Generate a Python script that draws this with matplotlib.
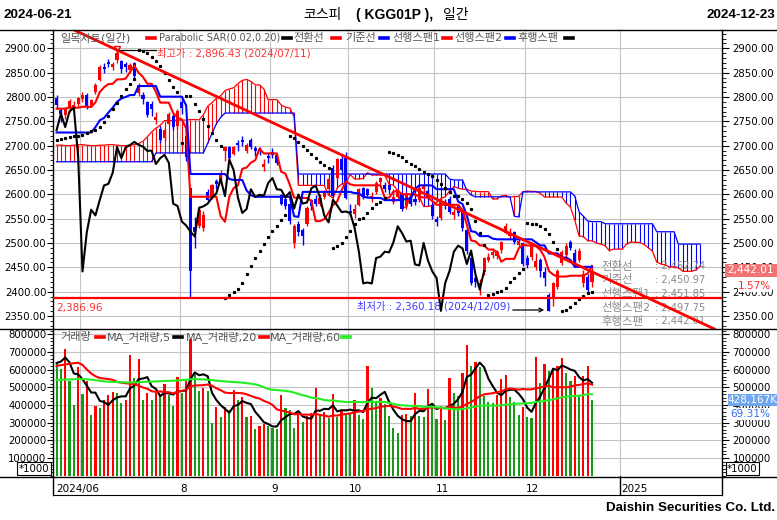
import numpy as np
import pandas as pd
import matplotlib
matplotlib.use('Agg')
import matplotlib.pyplot as plt
from matplotlib.lines import Line2D
from matplotlib.patches import Rectangle, FancyArrowPatch
from matplotlib.ticker import MultipleLocator, FixedLocator, FuncFormatter

plt.rcParams['font.family'] = ['DejaVu Sans', 'Noto Sans CJK KR']

# ---------------- data (KOSPI daily, 2024-06-21 .. 2024-12-23) ----------------
open_ = [2798, 2773, 2762, 2778, 2779, 2786, 2795, 2804, 2782, 2810,
         2835, 2862, 2872, 2862, 2875, 2873, 2868, 2856, 2870, 2808,
         2805, 2790, 2785, 2752, 2735, 2715, 2745, 2760, 2740, 2790,
         2720, 2614, 2533, 2535, 2530, 2605, 2596, 2628, 2625, 2688,
         2697, 2682, 2705, 2712, 2690, 2712, 2695, 2693, 2657, 2678,
         2687, 2680, 2598, 2590, 2580, 2500, 2540, 2526, 2540, 2588,
         2590, 2580, 2595, 2610, 2654, 2633, 2673, 2675, 2565, 2560,
         2578, 2613, 2610, 2592, 2605, 2625, 2620, 2620, 2585, 2595,
         2600, 2575, 2595, 2590, 2588, 2610, 2606, 2578, 2550, 2551,
         2585, 2590, 2557, 2575, 2565, 2527, 2469, 2428, 2410, 2440,
         2465, 2475, 2474, 2486, 2521, 2515, 2523, 2495, 2500, 2470,
         2471, 2450, 2465, 2440, 2393, 2389, 2410, 2459, 2475, 2503,
         2480, 2466, 2418, 2430, 2420]
high = [2804, 2778, 2780, 2795, 2792, 2800, 2810, 2808, 2796, 2829,
        2865, 2870, 2878, 2872, 2896.43, 2876, 2872, 2870, 2872, 2829,
        2810, 2792, 2792, 2770, 2740, 2737, 2770, 2764, 2775, 2803,
        2723, 2614, 2553, 2575, 2565, 2610, 2622, 2632, 2650, 2700,
        2700, 2700, 2712, 2720, 2706, 2715, 2700, 2697, 2672, 2685,
        2695, 2683, 2600, 2594, 2583, 2540, 2545, 2530, 2575, 2590,
        2598, 2600, 2608, 2635, 2660, 2675, 2681, 2686, 2580, 2580,
        2612, 2615, 2613, 2604, 2628, 2635.32, 2625, 2622, 2610, 2610,
        2603, 2605, 2600, 2598, 2615, 2622, 2610, 2580, 2555, 2592,
        2590, 2597, 2570, 2580, 2570, 2530, 2472, 2436, 2425, 2472,
        2480, 2490, 2486, 2505, 2541.76, 2530, 2525, 2510, 2502, 2475,
        2502, 2480, 2470, 2450, 2397, 2420, 2446, 2485, 2500, 2505.30,
        2488, 2490, 2445, 2436, 2450]
low = [2775, 2748.6, 2755, 2770, 2775, 2782, 2790, 2776, 2779, 2806,
       2832, 2850, 2862, 2855, 2870, 2850, 2852, 2850, 2840, 2803,
       2786, 2758, 2760, 2745, 2704.8, 2710, 2742, 2732, 2735, 2764,
       2669, 2386.96, 2490, 2530, 2525, 2585, 2590, 2610, 2620, 2668,
       2670, 2680, 2690, 2700, 2685, 2693, 2678, 2680, 2648, 2665,
       2674, 2660, 2578, 2570, 2540, 2490, 2515, 2496, 2535, 2568,
       2575, 2575, 2590, 2605, 2595, 2630, 2640, 2590, 2555, 2551,
       2575, 2590, 2592, 2585, 2600, 2620, 2605, 2600, 2580, 2590,
       2565, 2570, 2575, 2578, 2585, 2605, 2588, 2550, 2535, 2548,
       2570, 2560, 2550, 2555, 2525, 2478, 2413, 2410, 2393, 2435,
       2460, 2470, 2467, 2480, 2518, 2510, 2498, 2490, 2452, 2448,
       2465, 2445, 2430, 2412, 2360.18, 2370, 2405, 2455, 2470, 2485,
       2450, 2460, 2410, 2400.18, 2410]
close = [2784.26, 2764.73, 2774.39, 2792.05, 2784.06, 2797.82, 2804.31, 2780.86, 2794.01, 2824.94,
         2862.23, 2857.76, 2867.38, 2867.99, 2891.35, 2857.00, 2860.92, 2866.09, 2843.78, 2824.35,
         2795.46, 2763.51, 2774.29, 2758.71, 2710.65, 2731.90, 2765.52, 2738.19, 2770.69, 2777.68,
         2676.19, 2441.55, 2522.15, 2568.41, 2556.73, 2588.43, 2618.30, 2621.50, 2644.50, 2697.23,
         2674.36, 2696.63, 2701.13, 2707.67, 2701.69, 2698.01, 2689.25, 2689.83, 2662.28, 2674.31,
         2681.00, 2664.63, 2580.80, 2576.20, 2544.28, 2535.93, 2523.43, 2513.37, 2572.09, 2575.41,
         2580.80, 2593.37, 2602.01, 2631.68, 2596.32, 2671.57, 2649.78, 2593.27, 2561.69, 2569.71,
         2610.38, 2594.36, 2599.16, 2596.91, 2623.27, 2633.45, 2610.36, 2609.30, 2593.82, 2604.52,
         2570.70, 2599.62, 2581.03, 2583.27, 2612.43, 2617.80, 2593.79, 2556.15, 2542.36, 2588.97,
         2576.88, 2563.51, 2564.63, 2561.15, 2531.66, 2482.57, 2417.08, 2418.86, 2416.86, 2469.07,
         2471.95, 2482.12, 2480.63, 2501.24, 2534.34, 2520.36, 2503.06, 2504.67, 2455.91, 2453.95,
         2500.10, 2464.00, 2441.85, 2428.16, 2360.58, 2417.84, 2442.51, 2482.12, 2494.46, 2488.97,
         2456.81, 2484.43, 2435.93, 2404.15, 2442.01]
volume = [635000, 601000, 716000, 535000, 400000, 612000, 462000, 535000, 343000, 394000,
          380000, 428000, 456000, 475000, 470000, 412000, 428000, 682000, 550000, 657000,
          428000, 469000, 428000, 469000, 455000, 518000, 456000, 394000, 556000, 469000,
          533000, 771000, 588000, 478000, 494000, 480000, 300000, 386000, 334000, 388000,
          370000, 484000, 425000, 444000, 334000, 338000, 265000, 282000, 293000, 282000,
          270000, 262000, 457000, 382000, 374000, 270000, 343000, 306000, 338000, 356000,
          497000, 338000, 360000, 328000, 462000, 330000, 370000, 356000, 350000, 427000,
          345000, 320000, 620000, 495000, 410000, 440000, 405000, 338000, 270000, 241000,
          343000, 350000, 338000, 467000, 335000, 330000, 490000, 410000, 320000, 375000,
          316000, 552000, 469000, 452000, 578000, 738000, 620000, 644000, 615000, 448000,
          415000, 410000, 456000, 546000, 571000, 443000, 415000, 343000, 390000, 330000,
          326000, 669000, 525000, 631000, 594000, 605000, 622000, 663000, 578000, 533000,
          565000, 448000, 565000, 620000, 428167]

# indicator values before enough history exists
tenkan_head = [2776, 2776, 2776, 2778, 2778, 2778, 2780, 2780]
kijun_head = [2727, 2727, 2727, 2727, 2727, 2727, 2727, 2727, 2727, 2738,
              2752, 2757, 2768, 2778, 2790, 2797, 2800, 2804, 2804, 2822.5,
              2822.5, 2822.5, 2822.5, 2822.5, 2800.6]
span1_head = [2701, 2701, 2700, 2700, 2701, 2702, 2702, 2701, 2700, 2700,
              2701, 2701, 2702, 2702, 2701, 2700, 2700, 2701, 2702, 2704,
              2709, 2718, 2728, 2736, 2742]
span2_head = [2667, 2667, 2667, 2667, 2667, 2667, 2667, 2667, 2667, 2667,
              2667, 2667, 2667, 2667, 2667, 2667, 2667, 2667, 2667, 2667,
              2667, 2667, 2667, 2685, 2685, 2685, 2685, 2685, 2685, 2685,
              2685, 2685, 2685, 2685, 2685, 2705, 2725, 2745, 2758, 2767,
              2767, 2767, 2767, 2767, 2767, 2767, 2767, 2767, 2767, 2767,
              2767, 2767, 2767, 2767, 2767, 2767, 2641.7, 2641.7, 2641.7, 2641.7,
              2641.7, 2641.7, 2641.7, 2641.7, 2641.7, 2641.7, 2641.7, 2641.7, 2641.7, 2641.7,
              2641.7, 2641.7, 2641.7, 2641.7, 2641.7, 2641.7]
sar_start = 2712
ma5_head = [637000, 645000, 668000, 640000]
ma20_head = [621000, 625000, 628000, 632000, 636000, 638000, 626000, 600000, 578000, 562000,
             552000, 549000, 546000, 542000, 530000, 526000, 522000, 520000, 518000]
ma60_head = [541000, 542000, 543000, 544000, 545000, 546000, 546000, 545000, 543000, 540000,
             536000, 533000, 531000, 530000, 529000, 528000, 527000, 527000, 527000, 528000,
             530000, 531000, 532000, 533000, 534000, 535000, 536000, 537000, 538000, 540000,
             542000, 545000, 546000, 545000, 544000, 542000, 540000, 537000, 535000, 533000,
             531000, 529000, 528000, 526000, 523000, 520000, 516000, 510000, 500000, 490000,
             486000, 484000, 482000, 479000, 476000, 470000, 462000, 455000, 449000]

trend_x = [14, 66]
trend_y = [2896.43, 2681.00]
support = 2386.96

month_bounds = [5.5, 28.5, 49.5, 67.5, 87.5, 108.5, 130.5]
month_labels = ['2024/06', '8', '9', '10', '11', '12', '2025']
month_label_x = [-0.15, 28.75, 49.75, 67.75, 87.75, 108.75, 130.75]

info_names = ['전환선', '기준선', '선행스팬1', '선행스팬2', '후행스팬']
info_values = [': 2,452.74', ': 2,450.97', ': 2,451.85', ': 2,497.75', ': 2,442.01']

# ---------------- derived ----------------
o = np.array(open_, float); h = np.array(high, float)
l = np.array(low, float); c = np.array(close, float)
v = np.array(volume, float)
n = len(c)
idx = np.arange(n)
hs, ls = pd.Series(h), pd.Series(l)


def mid(win):
    return ((hs.rolling(win).max() + ls.rolling(win).min()) / 2).to_numpy()


tenkan = mid(9); tenkan[:8] = tenkan_head
kijun = mid(26); kijun[:25] = kijun_head
span1 = np.concatenate([span1_head, (tenkan + kijun) / 2])
span2 = np.concatenate([span2_head, mid(52)[51:]])
pos = np.arange(len(span1))


def psar(hi, lo, start, af0=0.02, afmax=0.2):
    out = np.zeros(len(hi))
    out[0] = start
    trend, ep, af = 1, hi[0], af0
    for i in range(1, len(hi)):
        s = out[i - 1] + af * (ep - out[i - 1])
        j = i - 2 if i >= 2 else i - 1
        if trend == 1:
            s = min(s, lo[i - 1], lo[j])
            if lo[i] < s:
                trend, s, ep, af = -1, ep, lo[i], af0
            elif hi[i] > ep:
                ep, af = hi[i], min(af + af0, afmax)
        else:
            s = max(s, hi[i - 1], hi[j])
            if hi[i] > s:
                trend, s, ep, af = 1, ep, hi[i], af0
            elif lo[i] < ep:
                ep, af = lo[i], min(af + af0, afmax)
        out[i] = s
    return out


sar = psar(h, l, sar_start)

vs = pd.Series(v)
ma5 = vs.rolling(5).mean().to_numpy(); ma5[:4] = ma5_head
ma20 = vs.rolling(20).mean().to_numpy(); ma20[:19] = ma20_head
ma60 = vs.rolling(60).mean().to_numpy(); ma60[:59] = ma60_head

RED, BLUE, GREEN = '#ff0000', '#0000ff', '#189a18'
GRID = '#c4c4c4'
GRAYTXT = '#555555'

# ---------------- figure ----------------
W, H = 777, 520
def fx(x): return x / W
def fy(y): return 1 - y / H

fig = plt.figure(figsize=(W / 100, H / 100), dpi=100)
fig.patch.set_facecolor('white')

XL = (-0.83, 154.1)
ax = fig.add_axes([fx(53), fy(329), fx(722) - fx(53), fy(30) - fy(329)])
axv = fig.add_axes([fx(53), fy(476), fx(722) - fx(53), fy(329) - fy(476)])
axd = fig.add_axes([fx(53), fy(495), fx(722) - fx(53), fy(476) - fy(495)])
for a in (ax, axv, axd):
    a.set_xlim(*XL)
    a.set_xticks([])
    for s in ('top', 'bottom'):
        a.spines[s].set_visible(False)
    for s in ('left', 'right'):
        a.spines[s].set_linewidth(1.0)
axd.spines['bottom'].set_visible(True)
axd.set_ylim(0, 1)
axd.set_yticks([])

lab = dict(labelsize=7.3, colors='black')


def yaxis_setup(a, lim, major, minor, fmt):
    a.set_ylim(*lim)
    a.yaxis.set_major_locator(FixedLocator(major))
    a.yaxis.set_minor_locator(MultipleLocator(minor))
    a.yaxis.set_major_formatter(FuncFormatter(fmt))
    a.tick_params(axis='y', which='major', length=4, pad=0.8, direction='out', **lab)
    a.tick_params(axis='y', which='minor', length=2, direction='out')
    r = a.twinx()
    r.set_ylim(*lim)
    r.set_xticks([])
    for s in r.spines.values():
        s.set_visible(False)
    r.yaxis.set_major_locator(FixedLocator(major))
    r.yaxis.set_minor_locator(MultipleLocator(minor))
    r.yaxis.set_major_formatter(FuncFormatter(fmt))
    r.tick_params(axis='y', which='major', length=5, pad=2.5, direction='out', **lab)
    r.tick_params(axis='y', which='minor', length=3, direction='out')
    a.grid(axis='y', color=GRID, lw=0.8)
    a.set_axisbelow(True)
    for b in month_bounds:
        a.axvline(b, color=GRID, lw=0.8, zorder=0.5)


yaxis_setup(ax, (2323.3, 2937.6), np.arange(2350, 2901, 50), 10, lambda x, p: f'{x:.2f}')
yaxis_setup(axv, (-1700, 829000), np.arange(100000, 800001, 100000), 20000, lambda x, p: f'{int(x)}')

# --- Ichimoku cloud ---
for p, a1, a2 in zip(pos, span1, span2):
    ax.vlines(p, min(a1, a2), max(a1, a2), color=RED if a1 >= a2 else BLUE, lw=0.8, zorder=1)
ax.plot(pos, span1, color=RED, lw=0.9, zorder=1.3)
ax.plot(pos, span2, color=BLUE, lw=0.9, zorder=1.3)

# info texts (drawn beneath lines)
for k, (nm, val) in enumerate(zip(info_names, info_values)):
    yy = [266, 280, 294, 307.5, 321][k]
    ax.text(fx(601), fy(yy), nm, transform=fig.transFigure, color='#8a8a8a',
            fontsize=8.2, va='center', ha='left', zorder=1.1)
    ax.text(fx(655), fy(yy), val, transform=fig.transFigure, color='#8a8a8a',
            fontsize=7.1, va='center', ha='left', zorder=1.1)

# --- candles ---
up = c >= o
cols = np.where(up, RED, BLUE)
ax.vlines(idx, l, h, colors=cols, lw=1.0, zorder=2)
bh = np.maximum(np.abs(c - o), 1.2)
ax.bar(idx, bh, width=0.72, bottom=np.minimum(o, c), color=cols, lw=0, zorder=2.1)

# --- lines ---
ax.plot(idx, tenkan, color=RED, lw=1.5, zorder=3)
ax.plot(idx, kijun, color=BLUE, lw=1.5, zorder=3)
ax.plot(idx[25:] - 25, c[25:], color='black', lw=1.5, zorder=3)
ax.plot(idx, sar, ls='none', marker='s', ms=1.3, color='black', zorder=3.5)
ax.axhline(support, color=RED, lw=1.6, zorder=4)
ax.axline((trend_x[0], trend_y[0]), (trend_x[1], trend_y[1]), color=RED, lw=2.0, zorder=4)
ax.plot([14], [2899], marker='v', ms=5, mfc='none', mec=RED, mew=1, zorder=4.5)

# --- volume ---
vcols = [GREEN] + [RED if v[i] > v[i - 1] else GREEN for i in range(1, n)]
axv.bar(idx, v, width=0.5, color=vcols, lw=0, zorder=2)
axv.plot(idx, ma5, color='black', lw=1.5, zorder=3)
axv.plot(idx, ma20, color=RED, lw=1.5, zorder=3)
axv.plot(idx, ma60, color='#22ee22', lw=1.5, zorder=3)

# --- date axis ---
for t, xl in zip(month_labels, month_label_x):
    axd.text(xl, 0.33, t, fontsize=7.5, ha='left', va='center')
axd.axvline(month_bounds[-1], color='black', lw=1)

# --- frame lines ---
for yy in (30, 329, 476.5):
    fig.add_artist(Line2D([0, 1], [fy(yy), fy(yy)], color='black', lw=1.0))

# --- header / footer ---
fig.text(fx(3), fy(15), '2024-06-21', family='Liberation Sans', fontweight='bold', fontsize=9.7,
         ha='left', va='center')
fig.text(fx(775), fy(15), '2024-12-23', family='Liberation Sans', fontweight='bold', fontsize=9.7,
         ha='right', va='center')
fig.text(fx(303), fy(15), '코스피', family='Noto Sans CJK KR', fontsize=10, ha='left', va='center')
fig.text(fx(356), fy(15.5), '( KGG01P ),', family='Liberation Sans', fontweight='bold', fontsize=10,
         ha='left', va='center')
fig.text(fx(443), fy(15), '일간', family='Noto Sans CJK KR', fontsize=10, ha='left', va='center')
fig.text(fx(775), fy(508), 'Daishin Securities Co. Ltd.', family='Liberation Sans',
         fontweight='bold', fontsize=9.6, ha='right', va='center')

# --- legends ---
def legend(items, y):
    for kind, x, val, *fs in items:
        if kind == 't':
            fig.text(fx(x), fy(y), val, fontsize=fs[0] if fs else 8, color=GRAYTXT,
                     ha='left', va='center')
        else:
            fig.add_artist(Line2D([fx(x), fx(x + 8)], [fy(y), fy(y)], color=val, lw=2.6))


legend([('t', 60, '일목차트(일간)'), ('m', 147, RED), ('t', 159, 'Parabolic SAR(0.02,0.20)', 7.0),
        ('m', 283, 'black'), ('t', 293, '전환선'), ('m', 332, RED), ('t', 345, '기준선'),
        ('m', 380, BLUE), ('t', 392, '선행스팬1'), ('m', 443, RED), ('t', 454, '선행스팬2'),
        ('m', 506, BLUE), ('t', 517, '후행스팬'), ('m', 565, 'black')], 38)
legend([('t', 60, '거래량'), ('m', 96, RED), ('t', 107, 'MA_거래량,5'), ('m', 174, 'black'),
        ('t', 186, 'MA_거래량,20'), ('m', 260, RED), ('t', 270, 'MA_거래량,60'),
        ('m', 342, '#22ee22')], 337)

# --- annotations ---
fig.add_artist(Line2D([fx(119), fx(156)], [fy(50), fy(50)], color='black', lw=0.9))
fig.text(fx(157), fy(53), '최고가 : 2,896.43 (2024/07/11)', color='#ff3030', fontsize=7.4,
         ha='left', va='center')
fig.text(fx(357), fy(306), '최저가 : 2,360.18 (2024/12/09)', color='#3b3bff', fontsize=7.4,
         ha='left', va='center')
fig.add_artist(FancyArrowPatch((fx(510), fy(310)), (fx(547), fy(310)), transform=fig.transFigure,
                               arrowstyle='->', mutation_scale=7, lw=0.9, color='black'))
fig.text(fx(56), fy(307.5), '2,386.96', color='#ff3030', fontsize=7.5, ha='left', va='center')

# right-side value tags (drawn over the axis labels)
fig.add_artist(Rectangle((fx(725), fy(277)), 52 / W, 13 / H, transform=fig.transFigure,
                         fc='#f07474', ec='none', zorder=5))
fig.text(fx(751), fy(270.5), '2,442.01', color='white', fontsize=7.6, ha='center', va='center',
         zorder=6)
fig.text(fx(755), fy(286), '1.57%', color='#ff2a2a', fontsize=7.6, ha='center', va='center',
         zorder=6, bbox=dict(boxstyle='square,pad=0.05', fc='white', ec='none'))
fig.add_artist(Rectangle((fx(728), fy(406)), 49 / W, 12 / H, transform=fig.transFigure,
                         fc='#6ea6f0', ec='none', zorder=5))
fig.text(fx(752.5), fy(400), '428,167K', color='white', fontsize=7.6, ha='center', va='center',
         zorder=6)
fig.text(fx(750), fy(414), '69.31%', color='#2f6ef0', fontsize=7.6, ha='center', va='center',
         zorder=6, bbox=dict(boxstyle='square,pad=0.05', fc='white', ec='none'))

for xc in (34, 742.5):
    fig.text(fx(xc), fy(468.5), '*1000', fontsize=7.3, ha='center', va='center', zorder=6,
             bbox=dict(boxstyle='square,pad=0.12', fc='white', ec='black', lw=0.8))

fig.savefig('out.png', dpi=100)
